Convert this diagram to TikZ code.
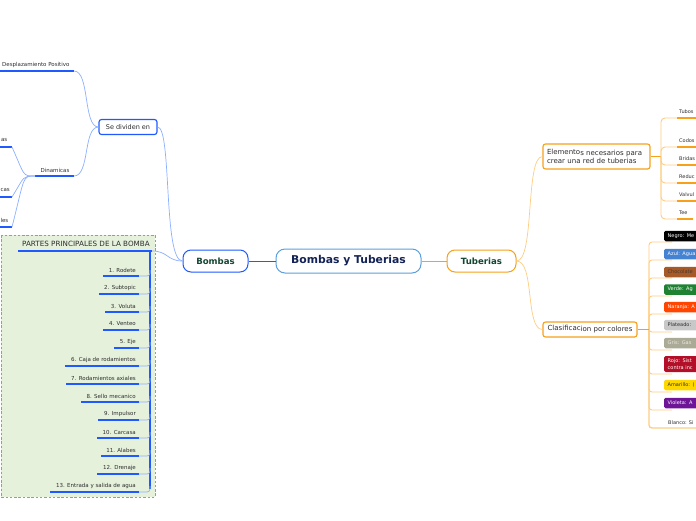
\documentclass[tikz,border=0pt]{standalone}
\usepackage{fontspec}
\setmainfont{DejaVu Sans}
\definecolor{bblue}{RGB}{30,90,255}
\definecolor{lblue}{RGB}{140,175,255}
\definecolor{cblue}{RGB}{90,160,220}
\definecolor{borange}{RGB}{247,160,26}
\definecolor{lorange}{RGB}{252,205,130}
\definecolor{dgreen}{RGB}{20,70,50}
\definecolor{navy}{RGB}{20,35,85}
\definecolor{txt}{RGB}{45,45,45}
\definecolor{pgreen}{RGB}{230,241,220}
\definecolor{dashgreen}{RGB}{120,185,90}
\definecolor{cnegro}{RGB}{0,0,0}
\definecolor{cazul}{RGB}{70,130,210}
\definecolor{cchoc}{RGB}{165,90,40}
\definecolor{cverde}{RGB}{30,130,50}
\definecolor{cnaranja}{RGB}{255,69,0}
\definecolor{cplat}{RGB}{200,200,200}
\definecolor{cgris}{RGB}{170,170,150}
\definecolor{crojo}{RGB}{180,15,40}
\definecolor{camar}{RGB}{255,215,0}
\definecolor{cviol}{RGB}{110,20,150}
\definecolor{choctext}{RGB}{75,55,45}
\definecolor{gristext}{RGB}{235,235,225}
\tikzset{
  mainbox/.style={draw=cblue, line width=1pt, rounded corners=9pt, fill=white,
    minimum width=145pt, minimum height=24pt, text=navy, inner sep=0pt,
    font=\fontsize{10.8}{12}\selectfont\bfseries},
  topicbox/.style={draw=#1, line width=1pt, rounded corners=8pt, fill=white,
    minimum height=22pt, text=dgreen, inner sep=0pt,
    font=\fontsize{8.6}{10}\selectfont\bfseries},
  subbox/.style={draw=#1, line width=1.1pt, rounded corners=2.5pt, fill=white,
    text=txt, inner sep=0pt},
  leaf/.style={text=txt, inner sep=0pt, font=\fontsize{5.5}{6.5}\selectfont},
  rleaf/.style={text=txt, inner sep=0pt, anchor=west, font=\fontsize{5}{6}\selectfont},
  uline/.style={draw=bblue, line width=1.5pt},
  lconn/.style={draw=lblue, line width=0.7pt},
  oconn/.style={draw=lorange, line width=0.9pt},
  ouline/.style={draw=borange, line width=1.5pt},
  cbox/.style={anchor=west, rounded corners=1.5pt, text width=46pt, align=left,
    inner xsep=3.5pt, inner ysep=0pt, minimum height=10.5pt,
    font=\fontsize{5}{6.3}\selectfont, text=white, fill=#1},
}
\begin{document}
\begin{tikzpicture}[x=1pt,y=-1pt]
\useasboundingbox (0,0) rectangle (696,520);

% ---------- left green panel ----------
\draw[dashgreen, fill=pgreen, line width=0.8pt, dash pattern=on 2.5pt off 1.8pt]
  (1,235) rectangle (155,497);

% ---------- central nodes ----------
\node[mainbox] (main) at (348.5,261) {Bombas y Tuberias};
\node[topicbox=bblue, minimum width=65pt] (bombas) at (215.5,261) {Bombas};
\node[topicbox=borange, minimum width=69pt] (tub) at (481.5,261) {Tuberias};
\draw[bblue, line width=1pt] (main.west) -- (bombas.east);
\draw[borange, line width=1pt] (main.east) -- (tub.west);

% ---------- Se dividen en ----------
\node[subbox=bblue, minimum width=58pt, minimum height=15pt,
  font=\fontsize{6.5}{8}\selectfont] (sediv) at (128,127) {Se dividen en};
\draw[lconn] (sediv.east) .. controls (172,127) and (163,261) .. (bombas.west);

\node[leaf, anchor=west] (desp) at (2,65) {Desplazamiento Positivo};
\coordinate (despE) at (74,71);
\draw[uline] (0,71) -- (despE);
\draw[lconn] (despE) .. controls (90,71) and (83,127) .. (sediv.west);

\node[leaf] (dina) at (55,170) {Dinamicas};
\coordinate (dinaE) at (74,176);
\coordinate (dinaW) at (35,176);
\draw[uline] (dinaW) -- (dinaE);
\draw[lconn] (dinaE) .. controls (90,176) and (83,127) .. (sediv.west);

\node[leaf, anchor=east] (d1) at (7.5,140) {as};
\node[leaf, anchor=east] (d2) at (10,190) {cas};
\node[leaf, anchor=east] (d3) at (8.5,220) {les};
\coordinate (d1u) at (12,147);
\coordinate (d2u) at (12,197);
\coordinate (d3u) at (12,227);
\draw[uline] (0,147) -- (d1u);
\draw[uline] (0,197) -- (d2u);
\draw[uline] (0,227) -- (d3u);
\foreach \c in {d1u,d2u,d3u}
  \draw[lconn] (dinaW) .. controls (22,176) and (25,176) .. (\c);

% ---------- Partes principales ----------
\node[leaf, anchor=east, font=\fontsize{7.2}{8}\selectfont] (partes) at (150,244)
  {PARTES PRINCIPALES DE LA BOMBA};
\coordinate (partE) at (152,251);
\draw[uline] (18,251) -- (partE);
\draw[lconn] (partE) .. controls (168,251) and (167,261) .. (bombas.west);
\draw[bblue, line width=2pt] (150,251) -- (150,489);

\foreach \t/\y/\xs [count=\i] in {
  1. Rodete/270/103, 2. Subtopic/288/99, 3. Voluta/306/105,
  4. Venteo/324/103, 5. Eje/342/114, 6. Caja de rodamientos/360/65,
  7. Rodamientos axiales/378/66, 8. Sello mecanico/396/81,
  9. Impulsor/414/98, 10. Carcasa/432/97, 11. Alabes/450/101,
  12. Drenaje/468/97, 13. Entrada y salida de agua/486/50}{
  \node[leaf, anchor=east] (p\i) at (136,\y) {\t};
  \coordinate (pu\i) at (139,\y+6);
  \draw[uline] (\xs,\y+6) -- (pu\i);
  \draw[lconn, rounded corners=3pt] (150,\y) |- (pu\i);
}

% ---------- Elementos ----------
\node[subbox=borange, text width=99pt, inner xsep=4pt, minimum height=25pt,
  align=left, font=\fontsize{7}{8.5}\selectfont] (elem) at (596.5,156.5)
  {\raisebox{1pt}{Elemento}s necesarios para\\crear una red de tuberias};
\draw[lconn, draw=lorange] (tub.east) .. controls (535,261) and (525,156.5) .. (elem.west);
\coordinate (elT) at (661,156.5);
\draw[ouline] (elem.east) -- (elT);

\foreach \t/\y/\xe [count=\i] in {Tubos/112/700, Codos/141/700, Bridas/159/700,
  Reduc/177/700, Valvul/195/700, Tee/213/693}{
  \node[rleaf] (e\i) at (679,\y) {\t};
  \coordinate (eu\i) at (677,\y+6);
  \draw[oconn, rounded corners=4pt] (elT) |- (eu\i);
  \draw[ouline] (eu\i) -- (\xe,\y+6);
}

% ---------- Clasificacion ----------
\node[subbox=borange, minimum width=94pt, minimum height=15pt,
  font=\fontsize{7}{8.5}\selectfont] (clas) at (590,329.5)
  {\raisebox{1pt}{Clasificac}ion por colores};
\draw[lconn, draw=lorange] (tub.east) .. controls (535,261) and (525,329.5) .. (clas.west);
\coordinate (clT) at (649,329.5);

\foreach \y in {242,260,278,296,314,332,350,374,392,410}
  \draw[oconn, rounded corners=3pt] (clT) |- (672,\y);
\draw[oconn, line width=1.3pt, rounded corners=3pt] (clT) |- (700,428);
\draw[ouline] (clas.east) -- (clT);

\node[cbox=cnegro] (negro) at (664,236) {Negro: Me};
\node[cbox=cazul] (azul) at (664,254) {Azul: Agua};
\node[cbox=cchoc, text=choctext] (choc) at (664,272) {Chocolate};
\node[cbox=cverde] (verde) at (664,289.5) {Verde: Ag};
\node[cbox=cnaranja] (naranja) at (664,307) {Naranja: A};
\node[cbox=cplat, text=txt] (plat) at (664,325) {Plateado:};
\node[cbox=cgris, text=gristext] (gris) at (664,343) {Gris: Gas};
\node[cbox=crojo, minimum height=16pt] (rojo) at (664,364) {Rojo: Sist\\contra inc};
\node[cbox=camar, text=txt] (amar) at (664,385) {Amarillo: (};
\node[cbox=cviol] (viol) at (664,403) {Violeta: A};
\node[rleaf] (blanco) at (668,423) {Blanco: Si};
\end{tikzpicture}
\end{document}
